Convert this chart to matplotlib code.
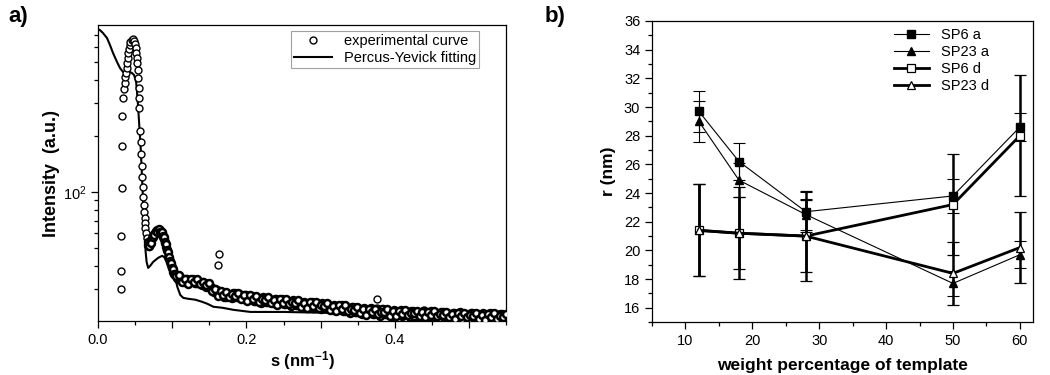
import matplotlib
matplotlib.use("Agg")
import matplotlib.pyplot as plt
from matplotlib.ticker import MultipleLocator, NullFormatter, FuncFormatter, LogLocator

plt.rcParams['font.family'] = ['Liberation Sans', 'DejaVu Sans']
plt.rcParams['mathtext.fontset'] = 'custom'
plt.rcParams['mathtext.rm'] = 'Liberation Sans'
plt.rcParams['mathtext.bf'] = 'Liberation Sans:bold'
plt.rcParams['mathtext.it'] = 'Liberation Sans:italic'

# ---- panel a: SAXS curve ----
# beamstop edge + first peak
exp_s_peak = [0.0310, 0.0312, 0.0314, 0.0318, 0.0322, 0.0330, 0.0340, 0.0348,
              0.0358, 0.0368, 0.0376, 0.0386, 0.0395, 0.0402, 0.0410, 0.0419,
              0.0428, 0.0437, 0.0452, 0.0468, 0.0486, 0.0500, 0.0509, 0.0518,
              0.0527, 0.0532, 0.0536, 0.0545, 0.0550, 0.0554, 0.0558, 0.0568,
              0.0577, 0.0581, 0.0590, 0.0599, 0.0604, 0.0613, 0.0622, 0.0626,
              0.0631, 0.0635, 0.0639, 0.0649, 0.0658]
exp_I_peak = [30.1, 37.6, 58.0, 105, 177, 257, 319, 357,
              384, 414, 437, 465, 495, 523, 557, 585,
              615, 640, 656, 665, 651, 625, 592, 557,
              523, 492, 453, 408, 361, 319, 282, 214,
              185, 160, 138.5, 121, 106, 94.3, 85.1, 78.4,
              72.2, 67.9, 63.8, 60.0, 56.4]
# second (form factor) maximum
exp_s_bump = [0.0669, 0.0676, 0.0690, 0.0703, 0.0716, 0.0730, 0.0750, 0.0770,
              0.0790, 0.0811, 0.0831, 0.0851, 0.0865, 0.0878, 0.0892, 0.0905,
              0.0919, 0.0932, 0.0946, 0.0960, 0.0973, 0.0987, 0.1000, 0.1014,
              0.1027]
exp_I_bump = [53.8, 51.9, 51.2, 52.5, 55.0, 56.6, 59.2, 60.2,
              62.3, 61.7, 62.5, 61.0, 59.8, 57.3, 55.8, 53.2,
              50.5, 48.8, 44.7, 43.8, 42.0, 40.4, 39.5, 37.1,
              36.4]
exp_s_bump2 = [0.0683, 0.0710, 0.0740, 0.0760, 0.0780, 0.0800, 0.0821, 0.0841,
               0.0858, 0.0872, 0.0885, 0.0899, 0.0912, 0.0926, 0.0939, 0.0953,
               0.0967, 0.0980, 0.0994, 0.1007, 0.1020, 0.1034]
exp_I_bump2 = [51.0, 53.0, 57.5, 59.0, 61.5, 61.0, 62.8, 61.0,
               60.5, 57.8, 57.0, 53.5, 52.5, 48.5, 47.5, 44.5,
               42.5, 41.2, 38.8, 38.4, 36.0, 35.8]
# tail, three interleaved passes
exp_s_tail = [0.104, 0.108, 0.112, 0.116, 0.120, 0.124, 0.128, 0.132, 0.136, 0.140,
              0.144, 0.148, 0.152, 0.156, 0.160, 0.164, 0.168, 0.172, 0.176, 0.180,
              0.184, 0.188, 0.192, 0.196, 0.200, 0.204, 0.208, 0.212, 0.216, 0.220,
              0.224, 0.228, 0.232, 0.236, 0.240, 0.244, 0.248, 0.252, 0.256, 0.260,
              0.264, 0.268, 0.272, 0.276, 0.280, 0.284, 0.288, 0.292, 0.296, 0.300,
              0.304, 0.308, 0.312, 0.316, 0.320, 0.324, 0.328, 0.332, 0.336, 0.340,
              0.344, 0.348, 0.352, 0.356, 0.360, 0.364, 0.368, 0.372, 0.376, 0.380,
              0.384, 0.388, 0.392, 0.396, 0.400, 0.404, 0.408, 0.412, 0.416, 0.420,
              0.424, 0.428, 0.432, 0.436, 0.440, 0.444, 0.448, 0.452, 0.456, 0.460,
              0.464, 0.468, 0.472, 0.476, 0.480, 0.484, 0.488, 0.492, 0.496, 0.500,
              0.504, 0.508, 0.512, 0.516, 0.520, 0.524, 0.528, 0.532, 0.536, 0.540,
              0.544, 0.548]
exp_I_tail = [36.1, 34.0, 34.2, 32.8, 34.0, 33.0, 33.9, 32.3, 32.8, 31.4,
              32.5, 30.6, 30.7, 28.8, 29.5, 28.2, 29.0, 27.3, 27.9, 26.9,
              28.5, 27.1, 27.8, 26.6, 27.8, 26.8, 27.7, 26.0, 26.5, 25.4,
              27.0, 25.6, 26.3, 25.1, 26.4, 25.5, 26.5, 24.9, 25.5, 24.4,
              26.0, 24.6, 25.3, 24.1, 25.4, 24.5, 25.5, 23.9, 24.5, 23.4,
              25.0, 23.6, 24.3, 23.1, 24.4, 23.5, 24.5, 22.9, 23.5, 22.4,
              24.0, 22.6, 23.3, 22.1, 23.4, 22.5, 23.6, 22.0, 22.7, 21.6,
              23.3, 22.0, 22.7, 21.6, 23.0, 22.1, 23.2, 21.7, 22.3, 21.3,
              23.0, 21.6, 22.4, 21.3, 22.6, 21.8, 22.9, 21.3, 22.0, 21.0,
              22.6, 21.3, 22.1, 20.9, 22.3, 21.5, 22.5, 21.0, 21.7, 20.7,
              22.3, 21.0, 21.8, 20.7, 22.0, 21.2, 22.3, 20.8, 21.4, 20.4,
              22.1, 20.8]
exp_s_tail2 = [0.106, 0.110, 0.114, 0.118, 0.122, 0.126, 0.130, 0.134, 0.138, 0.142,
               0.146, 0.150, 0.154, 0.158, 0.162, 0.166, 0.170, 0.174, 0.178, 0.182,
               0.186, 0.190, 0.194, 0.198, 0.202, 0.206, 0.210, 0.214, 0.218, 0.222,
               0.226, 0.230, 0.234, 0.238, 0.242, 0.246, 0.250, 0.254, 0.258, 0.262,
               0.266, 0.270, 0.274, 0.278, 0.282, 0.286, 0.290, 0.294, 0.298, 0.302,
               0.306, 0.310, 0.314, 0.318, 0.322, 0.326, 0.330, 0.334, 0.338, 0.342,
               0.346, 0.350, 0.354, 0.358, 0.362, 0.366, 0.370, 0.374, 0.378, 0.382,
               0.386, 0.390, 0.394, 0.398, 0.402, 0.406, 0.410, 0.414, 0.418, 0.422,
               0.426, 0.430, 0.434, 0.438, 0.442, 0.446, 0.450, 0.454, 0.458, 0.462,
               0.466, 0.470, 0.474, 0.478, 0.482, 0.486, 0.490, 0.494, 0.498, 0.502,
               0.506, 0.510, 0.514, 0.518, 0.522, 0.526, 0.530, 0.534, 0.538, 0.542,
               0.546]
exp_I_tail2 = [34.3, 34.7, 33.6, 34.2, 32.9, 33.3, 32.2, 33.2, 32.4, 32.8,
               30.8, 31.3, 29.8, 30.0, 28.3, 28.5, 27.2, 28.3, 27.7, 28.6,
               27.1, 28.1, 27.3, 28.0, 26.7, 27.1, 25.9, 26.9, 26.3, 27.1,
               25.6, 26.6, 25.8, 26.6, 25.4, 25.9, 24.8, 25.9, 25.3, 26.1,
               24.6, 25.6, 24.8, 25.6, 24.4, 24.9, 23.8, 24.9, 24.3, 25.1,
               23.6, 24.6, 23.8, 24.6, 23.4, 23.9, 22.8, 23.9, 23.3, 24.1,
               22.6, 23.6, 22.8, 23.6, 22.4, 22.9, 21.9, 23.0, 22.5, 23.3,
               21.9, 23.0, 22.2, 23.1, 22.0, 22.5, 21.5, 22.7, 22.1, 23.0,
               21.6, 22.6, 21.9, 22.8, 21.6, 22.2, 21.2, 22.3, 21.8, 22.7,
               21.2, 22.3, 21.6, 22.4, 21.3, 21.9, 20.8, 22.0, 21.5, 22.4,
               20.9, 22.0, 21.3, 22.2, 21.0, 21.6, 20.6, 21.8, 21.2, 22.1,
               20.7]
exp_s_tail3 = [0.105, 0.109, 0.113, 0.117, 0.121, 0.125, 0.129, 0.133, 0.137, 0.141,
               0.145, 0.149, 0.153, 0.157, 0.161, 0.165, 0.169, 0.173, 0.177, 0.181,
               0.185, 0.189, 0.193, 0.197, 0.201, 0.205, 0.209, 0.213, 0.217, 0.221,
               0.225, 0.229, 0.233, 0.237, 0.241, 0.245, 0.249, 0.253, 0.257, 0.261,
               0.265, 0.269, 0.273, 0.277, 0.281, 0.285, 0.289, 0.293, 0.297, 0.301,
               0.305, 0.309, 0.313, 0.317, 0.321, 0.325, 0.329, 0.333, 0.337, 0.341,
               0.345, 0.349, 0.353, 0.357, 0.361, 0.365, 0.369, 0.373, 0.377, 0.381,
               0.385, 0.389, 0.393, 0.397, 0.401, 0.405, 0.409, 0.413, 0.417, 0.421,
               0.425, 0.429, 0.433, 0.437, 0.441, 0.445, 0.449, 0.453, 0.457, 0.461,
               0.465, 0.469, 0.473, 0.477, 0.481, 0.485, 0.489, 0.493, 0.497, 0.501,
               0.505, 0.509, 0.513, 0.517, 0.521, 0.525, 0.529, 0.533, 0.537, 0.541,
               0.545, 0.549]
exp_I_tail3 = [35.3, 35.8, 32.7, 34.1, 32.0, 34.2, 32.6, 34.2, 31.9, 32.6,
               31.7, 32.3, 29.4, 30.1, 27.6, 29.3, 27.8, 29.1, 27.1, 28.1,
               27.7, 28.7, 26.5, 27.8, 26.0, 27.9, 26.5, 27.7, 25.7, 26.5,
               26.2, 27.1, 25.1, 26.3, 24.7, 26.5, 25.3, 26.5, 24.8, 25.5,
               25.2, 26.1, 24.1, 25.3, 23.7, 25.5, 24.3, 25.5, 23.8, 24.5,
               24.2, 25.1, 23.2, 24.3, 22.8, 24.5, 23.3, 24.5, 22.9, 23.5,
               23.2, 24.0, 22.2, 23.3, 21.8, 23.4, 22.5, 23.5, 22.1, 22.7,
               22.5, 23.4, 21.6, 22.8, 21.4, 23.0, 22.1, 23.2, 21.7, 22.4,
               22.2, 23.0, 21.4, 22.5, 21.1, 22.7, 21.8, 22.8, 21.4, 22.1,
               21.8, 22.6, 21.1, 22.0, 20.8, 22.4, 21.4, 22.4, 21.1, 21.8,
               21.5, 22.3, 20.8, 21.8, 20.5, 22.1, 21.2, 22.2, 20.8, 21.5,
               21.3, 22.1]
# stray points
exp_s_out = [0.1635, 0.1622, 0.3757, 0.3757, 0.4390]
exp_I_out = [46.4, 40.5, 26.6, 23.8, 23.2]

fit_s = [0.0, 0.0027, 0.0068, 0.0122, 0.0162, 0.0203, 0.0257, 0.0297, 0.0338,
         0.0392, 0.0432, 0.0459, 0.0486, 0.0514, 0.0527, 0.0541, 0.0550, 0.0560,
         0.0577, 0.0595, 0.0612, 0.0628, 0.0642, 0.0655, 0.0676, 0.0703, 0.0743,
         0.0811, 0.0865, 0.0905, 0.0946, 0.1000, 0.1041, 0.1068, 0.1108, 0.1149,
         0.1216, 0.1311, 0.1405, 0.1473, 0.1554, 0.1676, 0.1824, 0.2054, 0.2189,
         0.25, 0.296, 0.35, 0.40, 0.45, 0.50, 0.55]
fit_I = [752, 743, 716, 673, 617, 559, 500, 464, 442,
         436, 442, 436, 426, 390, 341, 286, 250, 215,
         168, 116, 80, 58.7, 47.6, 42.0, 39.0, 40.0, 42.0,
         44.2, 45.3, 44.2, 42.0, 39.0, 34.5, 30.9, 27.9, 26.9,
         26.6, 26.3, 25.6, 25.0, 24.1, 23.8, 23.2, 22.6, 22.6,
         22.6, 22.4, 22.2, 22.0, 21.7, 21.4, 21.1]

# ---- panel b: radii ----
wt_pct = [12, 18, 28, 50, 60]
sp6_a = [29.7, 26.2, 22.7, 23.8, 28.6]
sp6_a_err = [1.45, 1.3, 1.4, 1.2, 1.0]
sp23_a = [29.0, 24.9, 22.5, 17.7, 19.7]
sp23_a_err = [1.45, 1.2, 1.1, 0.9, 0.95]
sp6_d = [21.4, 21.2, 21.0, 23.2, 28.0]
sp6_d_err = [3.2, 3.2, 3.15, 3.5, 4.2]
sp23_d = [21.4, 21.2, 21.0, 18.4, 20.2]
sp23_d_err = [3.2, 2.5, 2.5, 2.2, 2.45]


def style_axes(ax):
    ax.tick_params(which='both', direction='out', top=False, right=False,
                   labelsize=10.5, width=0.9)
    ax.tick_params(which='major', length=5)
    ax.tick_params(which='minor', length=3)
    for sp in ax.spines.values():
        sp.set_linewidth(0.9)


def main():
    fig = plt.figure(figsize=(10.5, 3.75), dpi=100)

    # a)
    ax = fig.add_axes([0.0933, 0.144, 0.389, 0.789])
    ax.plot(fit_s, fit_I, color='black', lw=1.5, label='Percus-Yevick fitting', zorder=2)
    # sparse parts of the curve
    exp_s = exp_s_peak + exp_s_out
    exp_I = exp_I_peak + exp_I_out
    ax.plot(exp_s, exp_I, linestyle='none', marker='o', ms=5, mfc='white',
            mec='black', mew=1.0, label='experimental curve', zorder=3)
    # dense part: overlapping circles form a dark band
    dense_s = exp_s_bump + exp_s_bump2 + exp_s_tail + exp_s_tail2 + exp_s_tail3
    dense_I = exp_I_bump + exp_I_bump2 + exp_I_tail + exp_I_tail2 + exp_I_tail3
    ax.plot(dense_s, dense_I, linestyle='none', marker='o', ms=5, mfc='white',
            mec='black', mew=1.8, zorder=3)
    ax.set_yscale('log')
    ax.set_xlim(0, 0.55)
    ax.set_ylim(20.2, 790)
    ax.xaxis.set_major_locator(MultipleLocator(0.1))
    ax.xaxis.set_minor_locator(MultipleLocator(0.05))
    ax.xaxis.set_major_formatter(FuncFormatter(
        lambda v, p: f"{v:.1f}" if round(v / 0.1) % 2 == 0 else ""))
    ax.yaxis.set_major_locator(LogLocator(base=10))
    ax.yaxis.set_minor_locator(LogLocator(base=10, subs=range(2, 10)))
    ax.yaxis.set_minor_formatter(NullFormatter())
    style_axes(ax)
    ax.set_xlabel(r"s (nm$^\mathbf{-1}$)", fontsize=12, fontweight='bold', labelpad=2)
    ax.set_ylabel("Intensity  (a.u.)", fontsize=13, fontweight='bold', labelpad=2)
    h, l = ax.get_legend_handles_labels()
    leg = ax.legend(h[::-1], l[::-1], loc='upper right', bbox_to_anchor=(0.94, 0.99),
                    fontsize=10.5, frameon=True, fancybox=False, borderpad=0.2,
                    handlelength=2.6, labelspacing=0.2, borderaxespad=0.2)
    leg.get_frame().set_edgecolor('#888888')
    leg.get_frame().set_linewidth(0.8)
    fig.text(0.008, 0.955, "a)", fontsize=16, fontweight='bold', va='center')

    # b)
    bx = fig.add_axes([0.621, 0.141, 0.363, 0.803])
    bx.errorbar(wt_pct, sp6_a, yerr=sp6_a_err, fmt='-s', color='black', lw=0.8,
                ms=5.5, mfc='black', elinewidth=0.8, capsize=4, capthick=0.8,
                label='SP6 a')
    bx.errorbar(wt_pct, sp23_a, yerr=sp23_a_err, fmt='-^', color='black', lw=0.8,
                ms=6, mfc='black', elinewidth=0.8, capsize=4, capthick=0.8,
                label='SP23 a')
    bx.errorbar(wt_pct, sp6_d, yerr=sp6_d_err, fmt='-s', color='black', lw=2,
                ms=5.5, mfc='white', mew=0.9, elinewidth=1.8, capsize=4.5, capthick=1.8,
                label='SP6 d')
    bx.errorbar(wt_pct, sp23_d, yerr=sp23_d_err, fmt='-^', color='black', lw=2,
                ms=6, mfc='white', mew=0.9, elinewidth=1.8, capsize=4.5, capthick=1.8,
                label='SP23 d')
    bx.set_xlim(5, 62)
    bx.set_ylim(15, 36)
    bx.xaxis.set_major_locator(MultipleLocator(10))
    bx.xaxis.set_minor_locator(MultipleLocator(5))
    bx.xaxis.set_major_formatter(FuncFormatter(lambda v, p: f"{v:.0f}" if v >= 10 else ""))
    bx.yaxis.set_major_locator(MultipleLocator(2))
    bx.yaxis.set_minor_locator(MultipleLocator(1))
    style_axes(bx)
    bx.set_xlabel("weight percentage of template", fontsize=12.5, fontweight='bold', labelpad=7)
    bx.set_ylabel("r (nm)", fontsize=12.5, fontweight='bold', labelpad=6)
    h, l = bx.get_legend_handles_labels()
    h = [x[0] for x in h]
    bx.legend(h, l, loc='upper left', bbox_to_anchor=(0.6, 1.02), fontsize=10.5,
              frameon=False, handlelength=2.4, labelspacing=0.2)
    fig.text(0.519, 0.955, "b)", fontsize=16, fontweight='bold', va='center')

    fig.savefig("out.png", dpi=100)


if __name__ == "__main__":
    main()
